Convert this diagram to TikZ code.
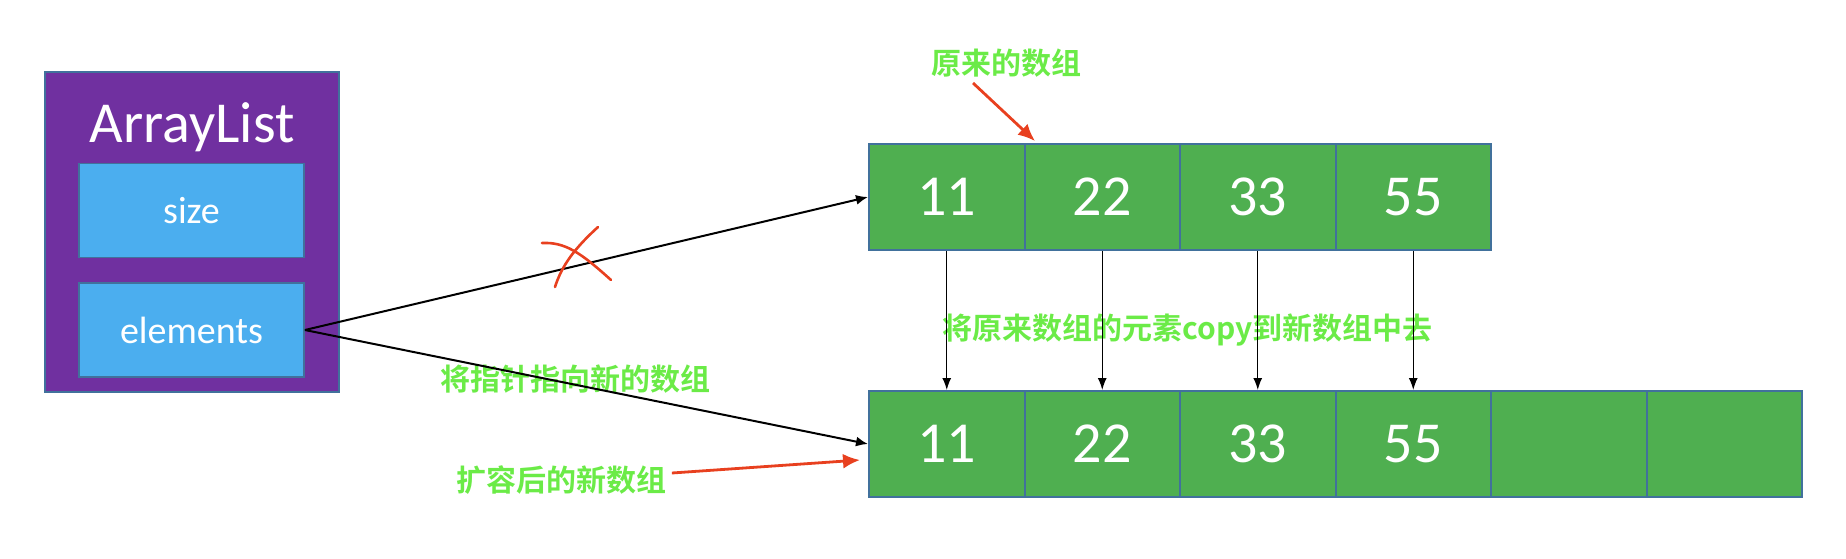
\documentclass[tikz,border=0pt]{standalone}
\usepackage{fontspec}
\setmainfont{Carlito}
\newfontfamily\cjk{Noto Sans CJK SC Bold}
\usetikzlibrary{arrows.meta,calc}
\definecolor{listpurple}{HTML}{7030A0}
\definecolor{fieldblue}{HTML}{4BAEEF}
\definecolor{cellgreen}{HTML}{4FAF50}
\definecolor{edgeblue}{HTML}{41719C}
\definecolor{notegreen}{HTML}{6BEB47}
\definecolor{markred}{HTML}{E8401F}
\tikzset{holder/.style={draw=edgeblue,fill=listpurple,line width=0.9pt,minimum width=147pt,minimum height=160pt,inner sep=0pt}, field/.style={draw=edgeblue,fill=fieldblue,line width=0.9pt,minimum width=112.5pt,minimum height=47pt,inner sep=0pt,text=white,font=\fontsize{19}{19}\selectfont}, cell/.style={draw=edgeblue,fill=cellgreen,line width=1pt,minimum width=77.75pt,minimum height=53pt,inner sep=0pt,text=white,font=\fontsize{29}{29}\selectfont}, note/.style={text=notegreen,inner sep=0pt,font=\cjk\fontsize{15}{15}\selectfont}, flow/.style={-{Latex[length=6pt,width=5pt]},line width=1pt,draw=black}, copyflow/.style={-{Latex[length=6pt,width=4.5pt]},line width=0.7pt,draw=black}, redflow/.style={-{Latex[length=8.5pt,width=7.5pt]},line width=1.4pt,draw=markred}}

\begin{document}
\begin{tikzpicture}[x=0.5pt,y=-0.5pt]
\useasboundingbox (0,0) rectangle (1846,558);
\node[holder] (list) at (192,232) {};
\node[text=white,inner sep=0pt,font=\fontsize{29}{29}\selectfont] (title) at (192,127) {ArrayList};
\node[field] (size) at (191.5,210.5) {size};
\node[field] (elem) at (191.5,330) {elements};
\node[cell] (o1) at (946.75,197) {11};
\node[cell] (o2) at (1102.25,197) {22};
\node[cell] (o3) at (1257.75,197) {33};
\node[cell] (o4) at (1413.25,197) {55};
\node[cell] (n1) at (946.75,444) {11};
\node[cell] (n2) at (1102.25,444) {22};
\node[cell] (n3) at (1257.75,444) {33};
\node[cell] (n4) at (1413.25,444) {55};
\node[cell] (n5) at (1568.75,444) {};
\node[cell] (n6) at (1724.25,444) {};
\node[note] (orig) at (1006.5,63) {原来的数组};
\node[note] (repoint) at (575.5,379) {将指针指向新的数组};
\node[note] (grown) at (561.5,480) {扩容后的新数组};
\node[note] (copying) at (1187.5,330) {将原来数组的元素copy到新数组中去};
\coordinate (origtail) at (973,83);
\coordinate (origtip) at (1035,141);
\coordinate (growntip) at (860,460);
\draw[flow] (elem.east)--(o1.west);
\draw[flow] (elem.east)--(n1.west);
\draw[copyflow] (o1)--(n1);\draw[copyflow] (o2)--(n2);
\draw[copyflow] (o3)--(n3);\draw[copyflow] (o4)--(n4);
\draw[redflow] (origtail)--(origtip);
\draw[redflow] ($(grown.east)+(5,-7)$)--(growntip);
% crossed-out old pointer
\draw[markred,line width=1.3pt,line cap=round] (542,243) .. controls (565,242) and (580,252) .. (611,280);
\draw[markred,line width=1.3pt,line cap=round] (598,227) .. controls (575,248) and (562,265) .. (555,287);
\end{tikzpicture}
\end{document}
